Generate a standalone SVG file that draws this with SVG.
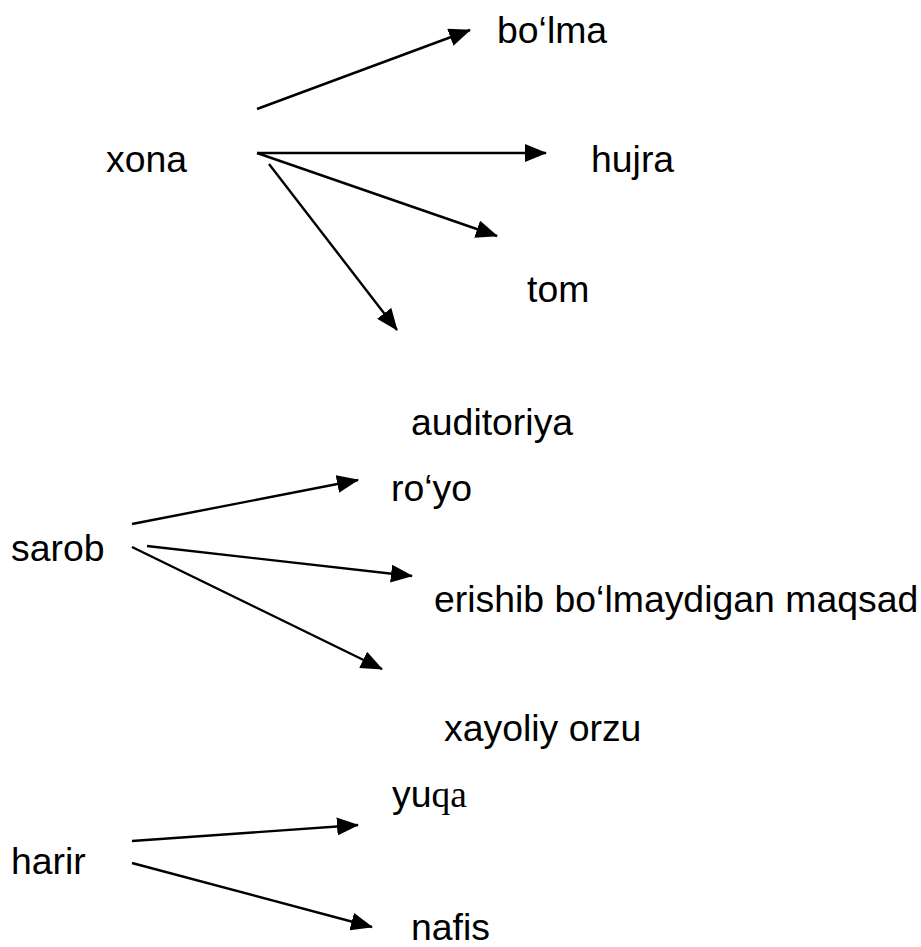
<svg xmlns="http://www.w3.org/2000/svg" width="921" height="947" viewBox="0 0 921 947">
<defs>
<style>
text{font-family:"Liberation Sans",Arial,sans-serif;font-size:37.4px;fill:#000}
.c line{stroke:#000;stroke-width:2.4;fill:none}
.serif{font-family:"Liberation Serif","Times New Roman",serif}
</style>
<marker id="ah" markerUnits="userSpaceOnUse" markerWidth="22" markerHeight="18" refX="21" refY="9" orient="auto">
<path d="M0,0 L22,9 L0,18 Z" fill="#000"/>
</marker>
</defs>
<rect width="921" height="947" fill="#fff"/>
<g id="connectors" class="c">
<line x1="257" y1="109" x2="470" y2="30" marker-end="url(#ah)"/>
<line x1="257" y1="153" x2="546" y2="153" marker-end="url(#ah)"/>
<line x1="257" y1="153" x2="497" y2="236" marker-end="url(#ah)"/>
<line x1="269" y1="164" x2="397" y2="330" marker-end="url(#ah)"/>
<line x1="132" y1="524" x2="358" y2="480" marker-end="url(#ah)"/>
<line x1="147" y1="546" x2="412" y2="576" marker-end="url(#ah)"/>
<line x1="132" y1="547" x2="382" y2="669" marker-end="url(#ah)"/>
<line x1="132" y1="841" x2="358" y2="825" marker-end="url(#ah)"/>
<line x1="132" y1="863" x2="372" y2="927" marker-end="url(#ah)"/>
</g>
<g id="xona"><text x="106" y="172">xona</text></g>
<g id="bolma"><text x="497" y="43">bo‘lma</text></g>
<g id="hujra"><text x="591" y="172">hujra</text></g>
<g id="tom"><text x="527" y="302">tom</text></g>
<g id="auditoriya"><text x="411" y="435">auditoriya</text></g>
<g id="sarob"><text x="11" y="561">sarob</text></g>
<g id="royo"><text x="391" y="501">ro‘yo</text></g>
<g id="erishib"><text x="434" y="612">erishib bo‘lmaydigan maqsad</text></g>
<g id="xayoliy"><text x="444" y="741">xayoliy orzu</text></g>
<g id="harir"><text x="11" y="874">harir</text></g>
<g id="yuqa"><text x="392" y="807">yu<tspan class="serif">qa</tspan></text></g>
<g id="nafis"><text x="411" y="940">nafis</text></g>
</svg>
